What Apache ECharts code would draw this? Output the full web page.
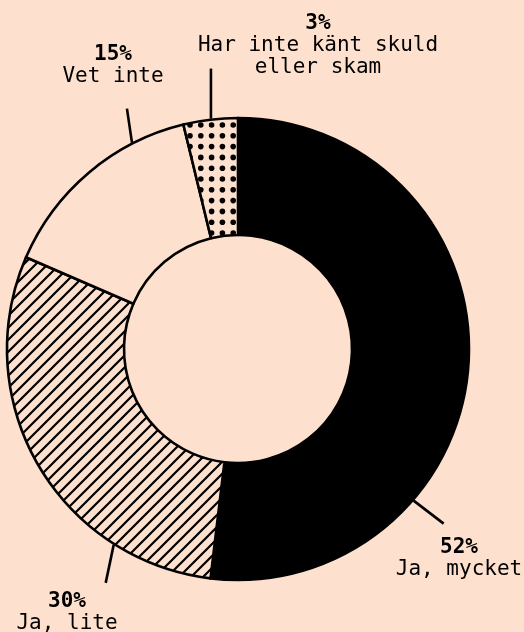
<!DOCTYPE html>
<html>
<head>
<meta charset="utf-8">
<script src="https://cdn.jsdelivr.net/npm/echarts@6/dist/echarts.min.js"></script>
<style>
  html, body { margin: 0; padding: 0; background: #fde1ce; }
  #chart { width: 524px; height: 632px; }
</style>
</head>
<body>
<div id="chart"></div>
<script>
var categories = ['Ja, mycket', 'Ja, lite', 'Vet inte', 'Har inte känt skuld\neller skam'];
var values = [51.9, 29.6, 14.7, 3.8];
var percentLabels = ['52%', '30%', '15%', '3%'];

var bg = '#fde1ce';
var cx = 238, cy = 349, rOuter = 231, rInner = 114;

// leader lines: angle on the ring (deg, clockwise from top) and end offset
var leaderAngle = [130.8, 212.4, 332.8, 353.3];
var leaderEnd = [[30, 23], [-8, 38], [-5, -34], [0, -50]];
// label block: centre x, top y
var labelPos = [[459, 537], [67, 591], [113, 44], [318, 13]];

function hatchPattern() {
    var s = 12;
    var c = document.createElement('canvas');
    c.width = s; c.height = s;
    var ctx = c.getContext('2d');
    ctx.fillStyle = bg;
    ctx.fillRect(0, 0, s, s);
    ctx.strokeStyle = '#000';
    ctx.lineWidth = 2.2;
    ctx.beginPath();
    ctx.moveTo(-2, s + 2); ctx.lineTo(s + 2, -2);
    ctx.moveTo(-2, 2); ctx.lineTo(2, -2);
    ctx.moveTo(s - 2, s + 2); ctx.lineTo(s + 2, s - 2);
    ctx.stroke();
    return c;
}

function dotPattern() {
    var s = 54, step = 10.8;
    var c = document.createElement('canvas');
    c.width = s; c.height = s;
    var ctx = c.getContext('2d');
    ctx.fillStyle = bg;
    ctx.fillRect(0, 0, s, s);
    ctx.fillStyle = '#000';
    for (var i = 0; i < 5; i++) {
        for (var j = 0; j < 5; j++) {
            ctx.beginPath();
            ctx.arc(6.4 + i * step, 6.2 + j * step, 2.8, 0, Math.PI * 2);
            ctx.fill();
        }
    }
    return c;
}

var fills = [
    '#000',
    { image: hatchPattern(), repeat: 'repeat' },
    bg,
    { image: dotPattern(), repeat: 'repeat' }
];

var myChart = echarts.init(document.getElementById('chart'));

var option = {
    backgroundColor: bg,
    animation: false,
    series: [{
        type: 'pie',
        center: [cx, cy],
        radius: [rInner, rOuter],
        startAngle: 90,
        clockwise: true,
        avoidLabelOverlap: false,
        silent: true,
        itemStyle: {
            borderColor: '#000',
            borderWidth: 2.6
        },
        label: {
            show: true,
            position: 'outside',
            color: '#000',
            formatter: function (p) {
                return '{p|' + percentLabels[p.dataIndex] + '}\n{n|' + p.name + '}';
            },
            rich: {
                p: { fontFamily: 'DejaVu Sans Mono', fontWeight: 'bold', fontSize: 21, lineHeight: 22, color: '#000' },
                n: { fontFamily: 'DejaVu Sans Mono', fontSize: 21, lineHeight: 22, color: '#000' }
            }
        },
        labelLine: {
            show: true,
            lineStyle: { color: '#000', width: 2.6 }
        },
        labelLayout: function (params) {
            var i = params.dataIndex;
            var a = leaderAngle[i] * Math.PI / 180;
            var x0 = cx + (rOuter + 1) * Math.sin(a);
            var y0 = cy - (rOuter + 1) * Math.cos(a);
            return {
                x: labelPos[i][0],
                y: labelPos[i][1],
                align: 'center',
                verticalAlign: 'top',
                labelLinePoints: [[x0, y0], [x0 + leaderEnd[i][0], y0 + leaderEnd[i][1]]]
            };
        },
        data: categories.map(function (name, i) {
            return { name: name, value: values[i], itemStyle: { color: fills[i] } };
        })
    }]
};

myChart.setOption(option);
</script>
</body>
</html>
